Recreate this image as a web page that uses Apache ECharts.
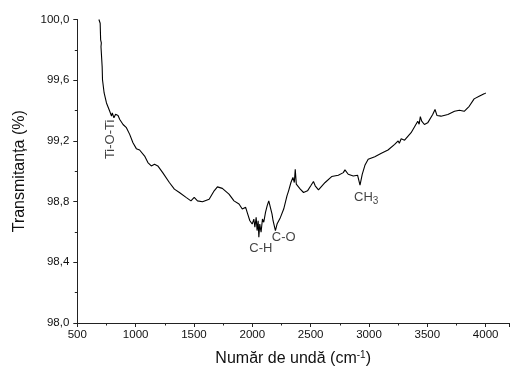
<!DOCTYPE html>
<html>
<head>
<meta charset="utf-8">
<script src="https://cdn.jsdelivr.net/npm/echarts@6/dist/echarts.min.js"></script>
<style>
  html, body { margin: 0; padding: 0; background: #fff; }
  #chart { width: 512px; height: 372px; }
</style>
</head>
<body>
<div id="chart"></div>
<script>
// FTIR spectrum: wavenumber (cm-1) and transmittance (%)
const wavenumber = [
  685, 696, 700, 706, 703, 713, 716, 730, 750, 778, 793, 800, 807, 814, 821, 828, 836, 849, 864,
  892, 921, 949, 977, 1006, 1034, 1048, 1077, 1105, 1134, 1162, 1190, 1232, 1289,
  1332, 1375, 1432, 1474, 1502, 1530, 1573, 1630, 1673, 1701, 1743, 1800,
  1843, 1886, 1914, 1943, 1956, 1979, 1999, 2013, 2022, 2033, 2041, 2050, 2056,
  2064, 2075, 2087, 2098, 2113, 2127, 2141, 2156, 2169, 2178, 2190, 2198, 2212,
  2241, 2269, 2297, 2311, 2331, 2348, 2360, 2368, 2377, 2388, 2411, 2439, 2473,
  2501, 2524, 2539, 2567, 2624, 2680, 2737, 2780, 2794, 2822,
  2865, 2902, 2923, 2942, 2965, 2993, 3050, 3106, 3163, 3220, 3250, 3260, 3276, 3305, 3361,
  3418, 3430, 3440, 3452, 3475, 3503, 3546, 3566, 3583, 3617, 3676, 3733, 3775, 3816, 3859,
  3901, 3944, 3960, 3987, 4001
];
const transmittance = [
  100.0, 99.975, 99.866, 99.846, 99.82, 99.690, 99.603, 99.516, 99.450, 99.395, 99.363, 99.385, 99.374, 99.352, 99.354, 99.375, 99.367, 99.367, 99.341,
  99.308, 99.287, 99.243, 99.188, 99.149, 99.140, 99.144, 99.100, 99.057, 99.035, 99.046, 99.035, 98.991, 98.926,
  98.882, 98.860, 98.828, 98.805, 98.828, 98.805, 98.799, 98.816, 98.871, 98.897, 98.887, 98.849,
  98.805, 98.784, 98.751, 98.762, 98.729, 98.674, 98.652, 98.685, 98.631, 98.696, 98.609, 98.674, 98.565,
  98.652, 98.598, 98.685, 98.664, 98.729, 98.772, 98.805, 98.795, 98.718, 98.674, 98.685, 98.609, 98.652,
  98.696, 98.751, 98.838, 98.871, 98.926, 98.959, 98.926, 99.013, 98.915, 98.926, 98.882, 98.860, 98.871,
  98.904, 98.932, 98.904, 98.877, 98.926, 98.965, 98.974, 98.991, 99.009, 98.980,
  98.969, 98.974, 98.908, 98.980, 99.039, 99.079, 99.096, 99.118, 99.140, 99.177, 99.200, 99.185, 99.214, 99.205, 99.254,
  99.330, 99.310, 99.360, 99.330, 99.308, 99.319, 99.374, 99.407, 99.367, 99.363, 99.374, 99.395, 99.402, 99.395, 99.428,
  99.477, 99.494, 99.488, 99.510, 99.516
];

// Band assignments drawn next to the spectrum
const bandLabels = ['Ti-O-Ti', 'C-H', 'C-O', 'CH3'];
const bandX = [787, 2073, 2269, 2976];
const bandY = [99.21, 98.489, 98.561, 98.829];

const xTicks = [500, 1000, 1500, 2000, 2500, 3000, 3500, 4000];

const FONT = '"Liberation Sans", Arial, sans-serif';

const chart = echarts.init(document.getElementById('chart'));

const bandRich = {
  base: { fontSize: 13, fontFamily: FONT, color: '#111' },
  sub: { fontSize: 10, fontFamily: FONT, color: '#111', padding: [8, 0, 0, 0] }
};

chart.setOption({
  animation: false,
  backgroundColor: '#fff',
  grid: { left: 77.3, right: 0, top: 19.5, bottom: 47, containLabel: false },
  xAxis: {
    type: 'value',
    min: 500,
    max: 4200,
    interval: 500,
    name: 'Număr de undă (cm{sup|-1}{n|)}',
    nameLocation: 'middle',
    nameGap: 27,
    nameTextStyle: {
      fontSize: 16, fontFamily: FONT, color: '#111',
      rich: {
        sup: { fontSize: 10, fontFamily: FONT, color: '#111', padding: [0, 0, 8, 0] },
        n: { fontSize: 16, fontFamily: FONT, color: '#111' }
      }
    },
    axisLine: { show: true, onZero: false, lineStyle: { color: '#222', width: 1 } },
    axisTick: { show: true, inside: false, length: 4, lineStyle: { color: '#222' } },
    minorTick: { show: true, splitNumber: 2, length: 2.5, lineStyle: { color: '#222' } },
    splitLine: { show: false },
    axisLabel: {
      fontSize: 11.5, fontFamily: FONT, color: '#111', margin: 6,
      formatter: v => (xTicks.indexOf(Math.round(v)) >= 0 ? String(Math.round(v)) : '')
    }
  },
  yAxis: {
    type: 'value',
    min: 98.0,
    max: 100.0,
    interval: 0.4,
    name: 'Transmitanța (%)',
    nameLocation: 'middle',
    nameGap: 50,
    nameTextStyle: { fontSize: 16, fontFamily: FONT, color: '#111' },
    axisLine: { show: true, onZero: false, lineStyle: { color: '#222', width: 1 } },
    axisTick: { show: true, inside: false, length: 4, lineStyle: { color: '#222' } },
    minorTick: { show: true, splitNumber: 2, length: 2.5, lineStyle: { color: '#222' } },
    splitLine: { show: false },
    axisLabel: {
      fontSize: 11.5, fontFamily: FONT, color: '#111', margin: 8,
      formatter: v => v.toFixed(1).replace('.', ',')
    }
  },
  series: [
    {
      type: 'line',
      data: wavenumber.map((w, i) => [w, transmittance[i]]),
      showSymbol: false,
      lineStyle: { color: '#000', width: 1.1 },
      silent: true
    },
    {
      type: 'scatter',
      data: bandLabels.map((b, i) => ({
        value: [bandX[i], bandY[i]],
        name: b,
        label: {
          show: true,
          position: 'inside',
          rotate: i === 0 ? 90 : 0,
          formatter: b === 'CH3' ? '{base|CH}{sub|3}' : '{base|' + b + '}',
          rich: bandRich
        }
      })),
      symbolSize: 1,
      itemStyle: { color: 'rgba(0,0,0,0)' },
      silent: true
    }
  ]
});
</script>
</body>
</html>
